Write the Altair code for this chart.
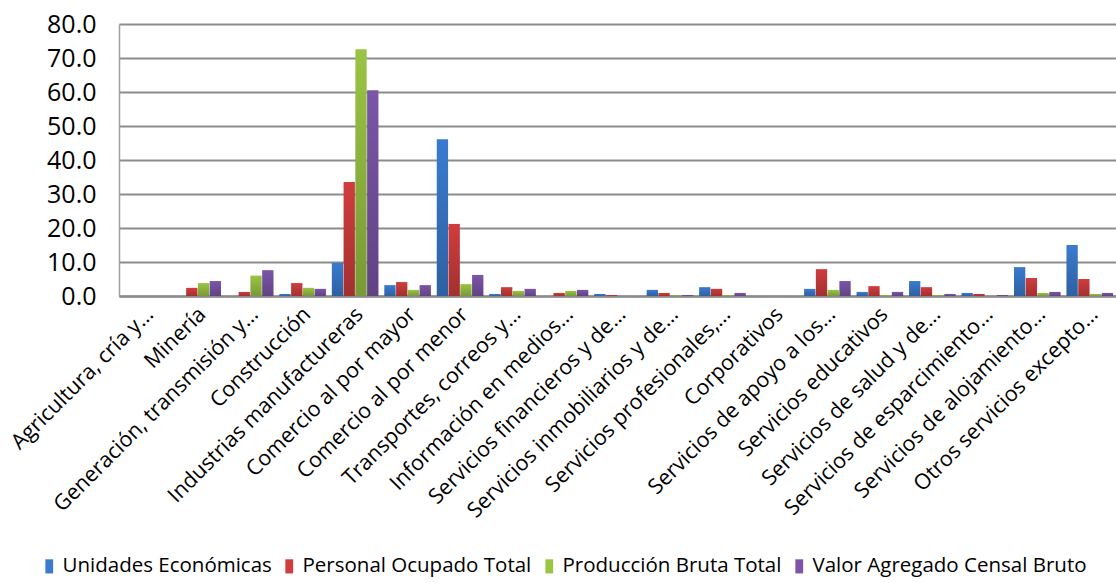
import altair as alt
import pandas as pd

categories = [
    "Agricultura, cría y…", "Minería", "Generación, transmisión y…", "Construcción",
    "Industrias manufactureras", "Comercio al por mayor", "Comercio al por menor",
    "Transportes, correos y…", "Información en medios…", "Servicios financieros y de…",
    "Servicios inmobiliarios y de…", "Servicios profesionales,…", "Corporativos",
    "Servicios de apoyo a los…", "Servicios educativos", "Servicios de salud y de…",
    "Servicios de esparcimiento…", "Servicios de alojamiento…", "Otros servicios excepto…",
]
series = ["Unidades Económicas", "Personal Ocupado Total", "Producción Bruta Total",
          "Valor Agregado Censal Bruto"]
colors = ["#3A7BCF", "#D03D3D", "#9AC444", "#7C55A8"]

unidades = [0.0, 0.0, 0.0, 0.6, 9.8, 3.2, 46.1, 0.6, 0.0, 0.6, 1.8, 2.6, 0.0, 2.1, 1.2, 4.4, 0.9, 8.5, 15.0]
personal = [0.0, 2.4, 1.2, 3.8, 33.5, 4.1, 21.2, 2.6, 0.9, 0.3, 0.9, 2.1, 0.0, 7.9, 2.9, 2.6, 0.6, 5.3, 5.0]
produccion = [0.0, 3.8, 6.0, 2.4, 72.6, 1.8, 3.5, 1.5, 1.5, 0.0, 0.3, 0.3, 0.0, 1.8, 0.3, 0.3, 0.0, 0.9, 0.6]
valor = [0.0, 4.4, 7.6, 2.1, 60.5, 3.2, 6.2, 2.1, 1.8, 0.0, 0.3, 0.9, 0.0, 4.4, 1.2, 0.6, 0.3, 1.2, 0.9]

rows = []
for s, vals in zip(series, [unidades, personal, produccion, valor]):
    for c, v in zip(categories, vals):
        rows.append({"categoria": c, "serie": s, "valor": v})
df = pd.DataFrame(rows)

FONT = "Open Sans"

x_enc = alt.X("categoria:N", sort=categories, title=None,
              scale=alt.Scale(paddingInner=0, paddingOuter=0),
              axis=alt.Axis(labelAngle=-45, labelAlign="right", labelBaseline="middle",
                            labelFontSize=21.5, labelFont=FONT, labelColor="#000000",
                            ticks=False, labelPadding=15, labelOffset=5, labelLimit=400,
                            domainColor="#8c8c8c", domainWidth=2.5, grid=False))
xoff_enc = alt.XOffset("serie:N", sort=series,
                       scale=alt.Scale(paddingOuter=0.25, paddingInner=0.04))
y_enc = alt.Y("valor:Q", title=None,
              scale=alt.Scale(domain=[0, 80], nice=False),
              axis=alt.Axis(values=[0, 10, 20, 30, 40, 50, 60, 70, 80], format=".1f",
                            labelFontSize=25, labelFont=FONT, labelColor="#000000",
                            ticks=False, labelPadding=23,
                            domainColor="#a0a0a0", domainWidth=1.5,
                            gridColor="#8c8c8c", gridWidth=2))

base = alt.Chart(df).mark_bar().encode(
    x=x_enc, xOffset=xoff_enc, y=y_enc,
    color=alt.Color("serie:N", sort=series,
                    scale=alt.Scale(domain=series, range=colors),
                    legend=alt.Legend(title=None, orient="none", direction="horizontal",
                                      legendX=-80, legendY=532,
                                      symbolType="M-0.55,-1H0.55V1H-0.55Z",
                                      symbolSize=200,
                                      symbolStrokeWidth=0, labelLimit=400,
                                      labelFontSize=20.5, labelFont=FONT,
                                      labelColor="#000000", columnPadding=7,
                                      labelOffset=3)),
)

shade = alt.Chart(df).mark_bar(
    color=alt.Gradient(
        gradient="linear", x1=0, y1=0, x2=0, y2=1,
        stops=[alt.GradientStop(color="rgba(0,0,0,0)", offset=0),
               alt.GradientStop(color="rgba(0,0,0,0.22)", offset=1)],
    )
).encode(x=x_enc, xOffset=xoff_enc, y=y_enc)

chart = alt.layer(base, shade).properties(
    width=997, height=272,
    autosize=alt.AutoSizeParams(type="none"),
    padding={"left": 119, "top": 24, "right": 0, "bottom": 287},
).configure_view(stroke=None).configure(background="white")

chart.save("out.html", embed_options={"renderer": "svg", "actions": False})
